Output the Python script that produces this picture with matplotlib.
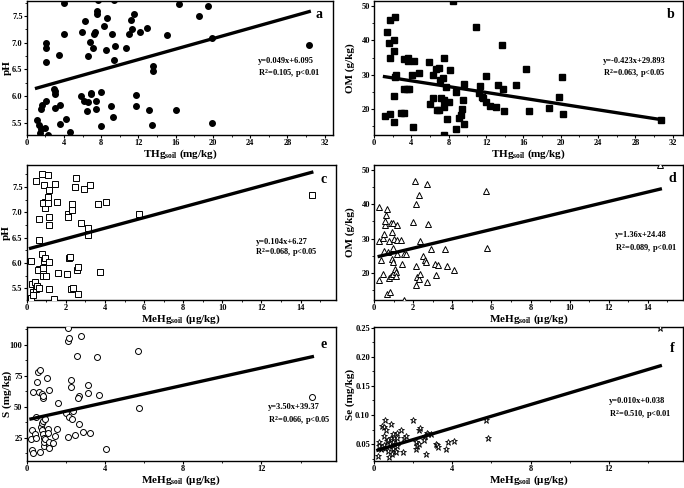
import matplotlib
matplotlib.use("Agg")
import matplotlib.pyplot as plt
from matplotlib.ticker import MultipleLocator
import numpy as np

plt.rcParams['font.family'] = ['Liberation Serif', 'DejaVu Serif']
plt.rcParams['font.weight'] = 'bold'
plt.rcParams['mathtext.fontset'] = 'custom'
plt.rcParams['mathtext.rm'] = 'Liberation Serif:bold'
plt.rcParams['mathtext.it'] = 'Liberation Serif:bold'
plt.rcParams['mathtext.bf'] = 'Liberation Serif:bold'

# ---- panel a: THg vs pH ----
a_x = [1.06, 1.34, 1.49, 1.41, 1.52, 1.66, 2.05, 2.02, 2.26, 2.12, 2.12, 2.05, 2.90, 3.08, 3.01, 3.08,
       3.54, 3.54, 3.47, 4.0, 4.0, 4.17, 4.67, 5.80, 5.9, 6.22, 6.19, 6.54, 6.47, 6.61, 6.79, 6.86, 6.86,
       7.07, 7.28, 7.36, 7.39, 7.39, 7.5, 7.5, 7.71, 8.03, 8.03, 8.27, 8.63, 8.56, 9.0, 9.12, 9.27, 9.37,
       9.48, 9.41, 10.7, 11.0, 11.2, 11.3, 11.5, 11.74, 11.78, 12.16, 12.87, 13.1, 13.44, 13.58, 13.58,
       15.03, 16.02, 16.34, 18.46, 19.48, 19.9, 19.9, 30.34]
a_y = [5.55, 5.46, 5.39, 5.31, 5.75, 5.84, 5.91, 5.41, 5.27, 6.99, 6.89, 6.64, 6.14, 6.10, 6.03, 5.77,
       5.84, 5.47, 6.77, 7.75, 7.16, 5.56, 5.33, 6.0, 7.19, 7.41, 5.91, 5.89, 5.72, 6.74, 7.02, 6.06, 6.03,
       6.89, 7.16, 7.19, 5.91, 5.76, 7.6, 7.53, 7.79, 5.43, 6.07, 7.31, 7.47, 6.86, 5.81, 7.16, 5.61, 6.67,
       6.94, 7.79, 6.89, 7.17, 7.43, 7.26, 7.53, 5.81, 6.01, 7.19, 7.27, 5.73, 5.46, 6.56, 6.46,
       7.14, 5.73, 7.73, 7.49, 7.68, 7.08, 5.49, 6.96]

# ---- panel b: THg vs OM ----
b_x = [1.11, 1.43, 1.54, 1.65, 1.65, 1.72, 2.08, 2.19, 2.15, 2.08, 2.15, 2.33, 2.26, 2.9, 3.15, 3.19,
       3.19, 3.55, 3.58, 3.58, 3.69, 4.05, 4.12, 4.3, 4.77, 5.91, 6.02, 6.31, 6.31, 6.67, 6.77, 6.92,
       6.99, 7.03, 7.2, 7.38, 7.46, 7.46, 7.49, 7.46, 7.67, 7.85, 8.06, 8.17, 8.42, 8.78, 8.78, 9.07,
       9.32, 9.5, 9.43, 9.64, 9.64, 10.97, 11.29, 11.36, 11.51, 11.68, 12.0, 12.0, 12.4, 13.08, 13.26,
       13.66, 13.84, 13.87, 15.23, 16.24, 16.59, 18.75, 19.86, 20.18, 20.25, 30.75]
b_y = [18.06, 42.5, 39.3, 45.9, 34.8, 18.4, 23.9, 46.7, 40.1, 36.9, 16.3, 29.8, 29.4, 18.7, 34.5, 18.9,
       25.7, 25.7, 35.0, 34.1, 25.7, 29.8, 14.6, 34.0, 30.6, 33.7, 21.4, 23.1, 29.9, 31.7, 19.7, 31.8,
       19.7, 28.4, 23.2, 29.0, 20.7, 34.8, 22.6, 12.3, 26.5, 17.1, 22.1, 31.4, 51.5, 25.0, 14.0, 17.5,
       18.2, 22.6, 19.9, 27.2, 15.7, 43.8, 24.6, 26.8, 23.6, 23.3, 22.0, 29.7, 20.9, 20.7, 26.9,
       38.8, 25.7, 19.4, 26.9, 31.7, 19.5, 20.4, 23.5, 29.2, 18.6, 16.7]

# ---- panel c: MeHg vs pH ----
c_x = [0.20, 0.25, 0.31, 0.20, 0.34, 0.44, 0.46, 0.51, 0.46, 0.61, 0.58, 0.63, 0.63, 0.65, 0.77, 0.77,
       0.82, 0.82, 0.83, 0.87, 0.89, 0.92, 0.92, 0.85, 0.95, 0.99, 1.11, 1.11, 1.11, 1.12, 1.14, 1.16,
       1.16, 1.14, 1.45, 1.53, 1.62, 1.40, 2.04, 2.13, 2.13, 2.16, 2.21, 2.25, 2.30, 2.32, 2.35, 2.49,
       2.52, 2.59, 2.61, 2.64, 2.76, 2.93, 3.12, 3.12, 3.24, 3.75, 3.63, 4.05, 5.75, 14.57]
c_y = [6.04, 5.58, 5.43, 5.32, 5.37, 5.63, 5.48, 5.55, 7.62, 5.89, 5.86, 5.50, 6.46, 6.86, 6.17, 7.76,
       5.86, 5.91, 5.75, 6.04, 7.53, 7.20, 7.09, 7.19, 6.09, 5.74, 7.74, 7.19, 7.29, 7.43, 6.75, 6.90,
       6.02, 5.48, 7.55, 7.20, 5.80, 5.29, 5.78, 6.96, 6.90, 6.10, 6.12, 5.48, 7.17, 7.04, 5.51, 7.49,
       7.68, 5.86, 5.93, 5.40, 6.79, 7.45, 6.68, 6.56, 7.54, 5.83, 7.16, 7.20, 6.96, 7.34]

# ---- panel d: MeHg vs OM ----
d_x = [0.26, 0.27, 0.27, 0.36, 0.43, 0.46, 0.48, 0.51, 0.53, 0.56, 0.61, 0.65, 0.68, 0.70, 0.77, 0.78,
       0.80, 0.84, 0.85, 0.90, 0.92, 0.94, 0.96, 0.97, 0.99, 1.02, 1.08, 1.11, 1.13, 1.16, 1.16, 1.18,
       1.35, 1.42, 1.54, 1.55, 1.62, 2.01, 2.10, 2.15, 2.13, 2.15, 2.20, 2.27, 2.32, 2.35, 2.37, 2.51,
       2.58, 2.65, 2.68, 2.71, 2.78, 2.92, 3.12, 3.16, 3.29, 3.75, 3.63, 4.06, 5.72, 5.78, 14.64]
d_y = [39.1, 29.4, 18.0, 23.9, 30.2, 19.7, 26.5, 31.4, 34.0, 35.0, 36.9, 38.6, 13.9, 26.1, 29.2, 18.5,
       14.4, 34.5, 19.2, 31.8, 24.1, 34.5, 23.1, 27.2, 19.7, 29.9, 21.2, 20.4, 19.2, 25.5, 33.8, 29.7,
       29.7, 22.6, 12.2, 25.5, 25.5, 34.8, 46.6, 40.1, 22.1, 16.6, 18.9, 42.6, 18.2, 19.7, 29.2, 25.0,
       23.8, 23.3, 45.9, 17.4, 34.1, 26.9, 22.6, 19.3, 22.3, 21.9, 27.0, 20.9, 43.9, 27.2, 51.3]

# ---- panel e: MeHg vs S ----
e_x = [0.26, 0.22, 0.26, 0.34, 0.34, 0.44, 0.48, 0.48, 0.51, 0.56, 0.63, 0.66, 0.68, 0.73, 0.77, 0.80,
       0.80, 0.82, 0.85, 0.85, 0.85, 0.89, 0.89, 0.90, 0.92, 0.94, 1.06, 1.11, 1.11, 1.12, 1.14, 1.16,
       1.16, 1.36, 1.45, 1.53, 1.58, 2.01, 2.13, 2.13, 2.18, 2.13, 2.18, 2.26, 2.26, 2.35, 2.30, 2.55,
       2.67, 2.66, 2.64, 2.49, 2.76, 2.89, 3.11, 3.11, 3.23, 3.61, 3.71, 4.05, 5.70, 5.75, 14.6]
e_y = [30.8, 23.7, 15.0, 12.6, 61.8, 27.6, 25.0, 42.1, 69.7, 78.4, 61.8, 79.7, 13.2, 33.4, 36.8, 60.5,
       30.8, 27.6, 57.4, 58.7, 38.2, 25.0, 18.4, 21.1, 40.3, 23.7, 72.9, 31.6, 28.4, 19.2, 21.6, 16.3,
       63.9, 20.3, 26.3, 32.1, 53.2, 44.7, 114.0, 103.4, 105.3, 25.8, 41.6, 71.8, 65.8, 46.8, 40.3, 90.8,
       36.1, 58.7, 57.1, 26.8, 107.1, 29.5, 61.3, 67.6, 28.4, 90.3, 59.7, 15.8, 94.7, 48.7, 58.2]

# ---- panel f: MeHg vs Se ----
f_x = [0.19, 0.26, 0.26, 0.34, 0.39, 0.48, 0.48, 0.51, 0.56, 0.58, 0.61, 0.65, 0.70, 0.73, 0.78, 0.82,
       0.85, 0.87, 0.90, 0.90, 0.94, 0.99, 0.99, 1.04, 1.08, 1.11, 1.13, 1.16, 1.16, 1.19, 1.38, 1.50,
       1.55, 1.62, 2.01, 2.13, 2.13, 2.18, 2.27, 2.30, 2.37, 2.53, 2.61, 2.66, 2.70, 2.78, 2.92, 3.17,
       3.24, 3.29, 3.67, 3.77, 4.10, 5.73, 5.80, 14.64]
f_y = [0.030, 0.053, 0.047, 0.042, 0.081, 0.080, 0.048, 0.064, 0.043, 0.092, 0.074, 0.055, 0.038,
       0.058, 0.028, 0.051, 0.085, 0.061, 0.047, 0.034, 0.068, 0.053, 0.042, 0.060, 0.039, 0.050,
       0.036, 0.070, 0.061, 0.047, 0.075, 0.037, 0.061, 0.064, 0.092, 0.053, 0.042, 0.047, 0.050,
       0.075, 0.077, 0.058, 0.064, 0.033, 0.070, 0.068, 0.067, 0.051, 0.048, 0.046, 0.041, 0.054,
       0.056, 0.092, 0.060, 0.250]

# regression coefficients (slope, intercept) and annotation texts
slopes = [0.049, -0.423, 0.104, 1.36, 3.50, 0.010]
intercepts = [6.095, 29.893, 6.27, 24.48, 39.37, 0.038]
eq_texts = ["y=0.049x+6.095", "y=-0.423x+29.893", "y=0.104x+6.27",
            "y=1.36x+24.48", "y=3.50x+39.37", "y=0.010x+0.038"]
r2_texts = [r"R$^2$=0.105, p<0.01", r"R$^2$=0.063, p<0.05", r"R$^2$=0.068, p<0.05",
            r"R$^2$=0.089, p<0.01", r"R$^2$=0.066, p<0.05", r"R$^2$=0.510, p<0.01"]
panel_labels = ["a", "b", "c", "d", "e", "f"]
y_labels = ["pH", "OM (g/kg)", "pH", "OM (g/kg)", "S (mg/kg)", "Se (mg/kg)"]
x_labels = [r"THg$_{\mathregular{soil}}$ (mg/kg)", r"THg$_{\mathregular{soil}}$ (mg/kg)",
            r"MeHg$_{\mathregular{soil}}$ (μg/kg)", r"MeHg$_{\mathregular{soil}}$ (μg/kg)",
            r"MeHg$_{\mathregular{soil}}$ (μg/kg)", r"MeHg$_{\mathregular{soil}}$ (μg/kg)"]

xs = [a_x, b_x, c_x, d_x, e_x, f_x]
ys = [a_y, b_y, c_y, d_y, e_y, f_y]

# styling
positions = [
    [0.039, 0.7234, 0.448, 0.2746],
    [0.547, 0.7234, 0.4515, 0.2746],
    [0.039, 0.385, 0.452, 0.277],
    [0.547, 0.385, 0.4515, 0.277],
    [0.039, 0.055, 0.452, 0.275],
    [0.547, 0.055, 0.4515, 0.275],
]
markers = [dict(marker='o', ms=4.0, mfc='black', mec='black'),
           dict(marker='s', ms=3.8, mfc='black', mec='black'),
           dict(marker='s', ms=3.8, mfc='white', mec='black', mew=0.7),
           dict(marker='^', ms=4.3, mfc='white', mec='black', mew=0.7),
           dict(marker='o', ms=4.3, mfc='white', mec='black', mew=0.7),
           dict(marker='*', ms=5.0, mfc='white', mec='black', mew=0.6)]
xlims = [(0, 32.9), (0, 33.1), (0, 15.8), (0, 15.8), (0, 15.8), (0, 15.8)]
ylims = [(5.27, 7.78), (12.4, 51.5), (5.27, 7.93), (12.1, 51.4), (6.0, 114.5), (0.021, 0.251)]
xmaj = [4, 4, 2, 2, 4, 4]
xmin = [2, 2, 1, 1, 2, 2]
ymaj = [0.5, 10, 0.5, 10, 25, 0.05]
ymin = [0.25, 5, 0.25, 5, 12.5, 0.025]
eq_pos = [(0.756, 0.55, 0.46), (0.74, 0.55, 0.46), (0.74, 0.43, 0.355),
          (0.78, 0.48, 0.385), (0.78, 0.40, 0.30), (0.76, 0.45, 0.345)]
lab_pos = [(0.955, 0.90), (0.96, 0.90), (0.96, 0.89), (0.965, 0.90), (0.96, 0.87), (0.965, 0.84)]
ylab_x = [-0.050, -0.062, -0.050, -0.062, -0.046, -0.062]

fig = plt.figure(figsize=(6.84, 4.88), dpi=100)
for i in range(6):
    ax = fig.add_axes(positions[i])
    x = np.array(xs[i]); y = np.array(ys[i])
    ax.plot(x, y, linestyle='none', **markers[i], zorder=3)
    xx = np.array([x.min(), x.max()])
    ax.plot(xx, slopes[i] * xx + intercepts[i], color='black', lw=2.4, zorder=4)
    ax.set_xlim(*xlims[i]); ax.set_ylim(*ylims[i])
    ax.xaxis.set_major_locator(MultipleLocator(xmaj[i]))
    ax.xaxis.set_minor_locator(MultipleLocator(xmin[i]))
    ax.yaxis.set_major_locator(MultipleLocator(ymaj[i]))
    ax.yaxis.set_minor_locator(MultipleLocator(ymin[i]))
    ax.tick_params(which='major', direction='out', length=2, width=0.8, labelsize=6.0, pad=1)
    ax.tick_params(which='minor', direction='out', length=1.2, width=0.6)
    for s in ax.spines.values():
        s.set_linewidth(1.0)
    for t in ax.get_xticklabels() + ax.get_yticklabels():
        t.set_fontweight('bold')
    ax.set_ylabel(y_labels[i], fontsize=8, fontweight='bold')
    ax.yaxis.set_label_coords(ylab_x[i], 0.5)
    ax.set_xlabel(x_labels[i], fontsize=8, fontweight='bold', labelpad=0)
    ex, ey1, ey2 = eq_pos[i]
    ax.text(ex, ey1, eq_texts[i], transform=ax.transAxes, fontsize=6, fontweight='bold', va='center')
    ax.text(ex, ey2, r2_texts[i], transform=ax.transAxes, fontsize=6, fontweight='bold', va='center')
    lx, ly = lab_pos[i]
    ax.text(lx, ly, panel_labels[i], transform=ax.transAxes, fontsize=10, fontweight='bold',
            ha='center', va='center')

fig.savefig("out.png", dpi=100)
